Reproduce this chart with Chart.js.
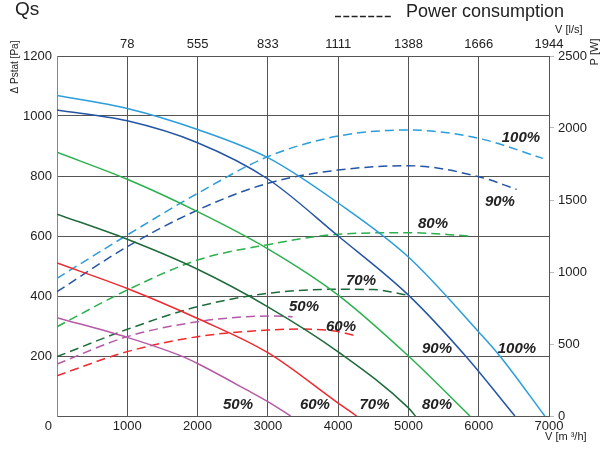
<!DOCTYPE html>
<html>
<head>
<meta charset="utf-8">
<script src="https://cdn.jsdelivr.net/npm/chart.js@4.4.0/dist/chart.umd.min.js"></script>
<style>
  html, body { margin: 0; padding: 0; background: #fff; }
  #wrap { width: 601px; height: 454px; }
</style>
</head>
<body>
<div id="wrap"><canvas id="fanChart" width="601" height="454"></canvas></div>
<script>
// flow in m3/h, pressure in Pa
const p100x = [0, 1000, 2000, 3000, 4000, 5000, 6000, 6300, 6940];
const p100y = [1068, 1025, 955, 861, 710, 530, 280, 200, 0];
const p90x = [0, 1000, 2000, 3000, 4000, 5000, 5813, 6515];
const p90y = [1020, 984, 911, 790, 600, 403, 200, 0];
const p80x = [0, 1000, 2000, 3000, 4000, 5000, 5875];
const p80y = [879, 789, 681, 557, 403, 200, 0];
const p70x = [0, 1000, 2000, 3000, 4000, 5000, 5100];
const p70y = [673, 589, 489, 364, 214, 27, 0];
const p60x = [0, 1000, 2000, 3000, 4000, 4263];
const p60y = [510, 425, 325, 211, 43, 0];
const p50x = [0, 1000, 1800, 2000, 2700, 3000, 3324];
const p50y = [328, 262, 197, 175, 87, 48, 0];

// power consumption in W
const w100x = [0, 1000, 2000, 3000, 4000, 5000, 6000, 6913];
const w100y = [956, 1257, 1546, 1801, 1944, 1986, 1928, 1789];
const w90x = [0, 1000, 2000, 3000, 4000, 5000, 6000, 6539];
const w90y = [863, 1176, 1430, 1616, 1708, 1738, 1662, 1574];
const w80x = [0, 1000, 2000, 3000, 4000, 5000, 5875];
const w80y = [620, 875, 1083, 1190, 1262, 1273, 1250];
const w70x = [0, 1000, 2000, 3000, 4000, 4500, 5020];
const w70y = [412, 602, 759, 852, 880, 878, 836];
const w60x = [0, 1000, 2000, 3000, 3500, 4000, 4286];
const w60y = [280, 447, 551, 597, 604, 586, 551];
const w50x = [0, 1000, 2000, 2700, 3000, 3353];
const w50y = [361, 551, 655, 690, 694, 690];

const topLabels = ['78', '555', '833', '1111', '1388', '1666', '1944'];

// speed labels: [text, flow, pressure]
const notes = [
  ['50%', 2575, 37], ['60%', 3670, 37], ['70%', 4517, 37], ['80%', 5406, 37],
  ['90%', 5406, 223], ['100%', 6544, 223],
  ['50%', 3514, 363], ['60%', 4040, 297], ['70%', 4325, 450],
  ['80%', 5349, 640], ['90%', 6302, 713], ['100%', 6601, 927]
];

const FONT = "'Liberation Sans', Arial, sans-serif";

function pts(xs, ys) {
  return xs.map((x, i) => ({ x: x, y: ys[i] }));
}

function curve(xs, ys, color, power) {
  return {
    data: pts(xs, ys),
    borderColor: color,
    borderWidth: 1.5,
    borderDash: power ? [9, 5] : [],
    yAxisID: power ? 'y2' : 'y',
    pointRadius: 0,
    fill: false,
    cubicInterpolationMode: 'monotone'
  };
}

const c100 = '#2b9ddb', c90 = '#2455a5', c80 = '#2bb04e',
      c70 = '#1d6b3b', c60 = '#ee2a30', c50 = '#b55aa6';

const extraText = {
  id: 'extraText',
  afterDraw(chart) {
    const ctx = chart.ctx;
    const xs = chart.scales.x, ys = chart.scales.y;
    ctx.save();
    ctx.fillStyle = '#222';
    ctx.textBaseline = 'middle';

    ctx.font = '19px ' + FONT;
    ctx.textAlign = 'left';
    ctx.fillText('Qs', 15, 10);

    // dashed legend sample
    ctx.save();
    ctx.strokeStyle = '#222';
    ctx.lineWidth = 1.5;
    ctx.setLineDash([6, 2.3]);
    ctx.beginPath();
    ctx.moveTo(335, 16.5);
    ctx.lineTo(392, 16.5);
    ctx.stroke();
    ctx.restore();

    ctx.font = '18px ' + FONT;
    ctx.fillText('Power consumption', 406, 12);

    ctx.font = '11px ' + FONT;
    ctx.fillText('V [l/s]', 555, 30);
    ctx.fillText('V [m \u00b3/h]', 545, 437);

    ctx.font = '13px ' + FONT;
    ctx.textAlign = 'right';
    ctx.fillText('0', 52, 426);

    ctx.save();
    ctx.translate(595, 52);
    ctx.rotate(-Math.PI / 2);
    ctx.textAlign = 'center';
    ctx.font = '11px ' + FONT;
    ctx.fillText('P [W]', 0, 0);
    ctx.restore();

    ctx.save();
    ctx.translate(15, 67);
    ctx.rotate(-Math.PI / 2);
    ctx.textAlign = 'center';
    ctx.font = '10px ' + FONT;
    ctx.fillText('\u0394 Pstat [Pa]', 0, 0);
    ctx.restore();

    ctx.font = 'italic bold 15px ' + FONT;
    ctx.textAlign = 'center';
    notes.forEach(n => {
      ctx.fillText(n[0], xs.getPixelForValue(n[1]), ys.getPixelForValue(n[2]));
    });
    ctx.restore();
  }
};

new Chart(document.getElementById('fanChart'), {
  type: 'line',
  data: {
    datasets: [
      curve(p100x, p100y, c100, false),
      curve(p90x, p90y, c90, false),
      curve(p80x, p80y, c80, false),
      curve(p70x, p70y, c70, false),
      curve(p60x, p60y, c60, false),
      curve(p50x, p50y, c50, false),
      curve(w100x, w100y, c100, true),
      curve(w90x, w90y, c90, true),
      curve(w80x, w80y, c80, true),
      curve(w70x, w70y, c70, true),
      curve(w60x, w60y, c60, true),
      curve(w50x, w50y, c50, true)
    ]
  },
  options: {
    responsive: false,
    animation: false,
    layout: { padding: 0 },
    plugins: { legend: { display: false }, tooltip: { enabled: false } },
    scales: {
      x: {
        type: 'linear',
        position: 'bottom',
        min: 0,
        max: 7000,
        ticks: {
          stepSize: 1000,
          padding: 3,
          color: '#222',
          font: { family: FONT, size: 13 },
          maxRotation: 0,
          callback: v => (v === 0 ? '' : String(v))
        },
        grid: { color: '#555', lineWidth: 1, drawTicks: false },
        border: { color: '#555' },
        afterFit: s => { s.height = 38; }
      },
      xTop: {
        type: 'linear',
        position: 'top',
        min: 0,
        max: 7000,
        ticks: {
          stepSize: 1000,
          padding: 4,
          color: '#222',
          font: { family: FONT, size: 13 },
          maxRotation: 0,
          callback: v => (v === 0 ? '' : topLabels[Math.round(v / 1000) - 1])
        },
        grid: { drawOnChartArea: false, drawTicks: false },
        border: { display: false },
        afterFit: s => { s.height = 56; }
      },
      y: {
        position: 'left',
        min: 0,
        max: 1200,
        ticks: {
          stepSize: 200,
          padding: 5,
          color: '#222',
          font: { family: FONT, size: 13 },
          callback: v => (v === 0 ? '' : String(v))
        },
        grid: { color: '#555', lineWidth: 1, drawTicks: false },
        border: { color: '#888' },
        afterFit: s => { s.width = 57; }
      },
      y2: {
        position: 'right',
        min: 0,
        max: 2500,
        ticks: {
          stepSize: 500,
          padding: 4,
          color: '#222',
          font: { family: FONT, size: 13 },
          callback: v => String(v)
        },
        grid: { drawOnChartArea: false, tickLength: 5, color: '#bbb' },
        border: { color: '#555' },
        afterFit: s => { s.width = 52; }
      }
    }
  },
  plugins: [extraText]
});
</script>
</body>
</html>
